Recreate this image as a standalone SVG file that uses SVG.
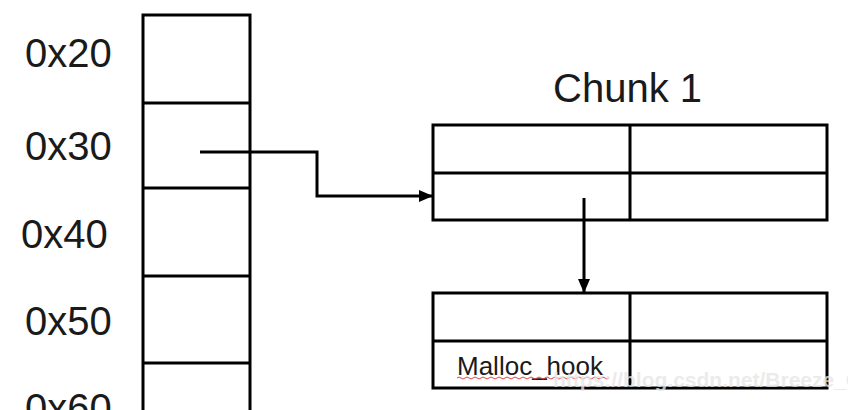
<svg xmlns="http://www.w3.org/2000/svg" width="848" height="410" viewBox="0 0 848 410">
<style>
.box{fill:none;stroke:#000;stroke-width:3}
.ln{fill:none;stroke:#000;stroke-width:3}
.lbl{font-family:"Liberation Sans",Arial,sans-serif;font-size:40px;fill:#1a1a1a}
.conn{fill:none;stroke:#000;stroke-width:3}
</style>
<defs>
<marker id="ah" markerWidth="14" markerHeight="12" refX="13" refY="6" orient="auto" markerUnits="userSpaceOnUse">
<path d="M0,0 L14,6 L0,12 Z" fill="#000"/>
</marker>
</defs>
<rect width="848" height="410" fill="#fff"/>
<g id="column">
<path class="ln" d="M143,430 V15 H250 V430"/>
<path class="ln" d="M143,103 H250 M143,188 H250 M143,276 H250 M143,363 H250"/>
</g>
<g id="labels">
<text class="lbl" x="25" y="67">0x20</text>
<text class="lbl" x="25" y="160">0x30</text>
<text class="lbl" x="21" y="248">0x40</text>
<text class="lbl" x="25" y="335">0x50</text>
<text class="lbl" x="25" y="422">0x60</text>
</g>
<g id="chunk1">
<text class="lbl" x="553" y="102" font-size="41">Chunk 1</text>
<rect class="box" x="433" y="125" width="394" height="95"/>
<path class="ln" d="M433,173 H827 M630,125 V220"/>
</g>
<g id="chunk2">
<rect class="box" x="433" y="293" width="394" height="95"/>
<path class="ln" d="M433,341 H827 M630,293 V388"/>
<text x="457" y="375" font-family="Liberation Sans,Arial,sans-serif" font-size="26" fill="#1a1a1a">Malloc_hook</text>
<path d="M457,378 q2,-2 4,0 t4,0 t4,0 t4,0 t4,0 t4,0 t4,0 t4,0 t4,0 t4,0 t4,0 t4,0 t4,0 t4,0 t4,0 t4,0 t4,0 t4,0 t4,0 t4,0 t4,0 t4,0 t4,0 t4,0 t4,0 t4,0 t4,0 t4,0 t4,0 t4,0 t4,0 t4,0 t4,0 t4,0 t4,0 t4,0 t4,0 t4,0" fill="none" stroke="#e84040" stroke-width="1"/>
<text x="553" y="387" font-family="Liberation Sans,Arial,sans-serif" font-size="21" font-weight="bold" fill="#e6e6e6" fill-opacity="0.8">https://blog.csdn.net/Breeze_CAT</text>
</g>
<g id="connectors">
<path class="conn" d="M200,152 H317 V196 H432" marker-end="url(#ah)"/>
<path class="conn" d="M584,198 V292" marker-end="url(#ah)"/>
</g>
</svg>
